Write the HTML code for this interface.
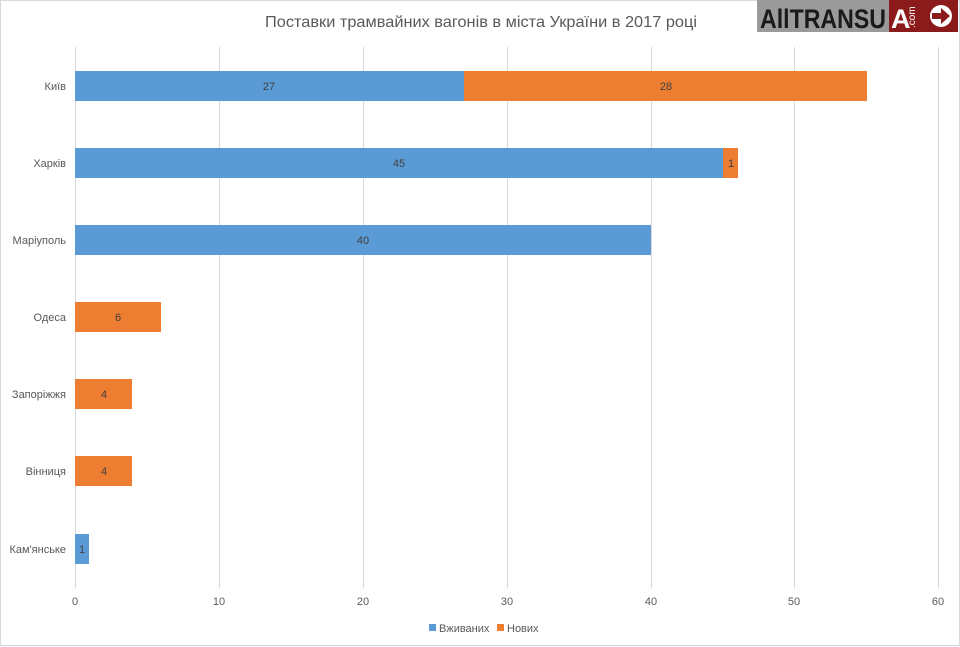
<!DOCTYPE html>
<html><head><meta charset="utf-8"><style>
body{margin:0;background:#fff;}
svg{display:block;font-family:"Liberation Sans",sans-serif;}
</style></head><body>
<svg width="960" height="647" viewBox="0 0 960 647">
<rect x="0.5" y="0.5" width="959" height="645" fill="#fff" stroke="#d9d9d9"/>
<text x="481" y="27" text-anchor="middle" font-size="16" fill="#595959" textLength="432" lengthAdjust="spacingAndGlyphs">Поставки трамвайних вагонів в міста України в 2017 році</text>
<rect x="757" y="0" width="132" height="32" fill="#9a9a9a"/>
<text x="760" y="28" font-size="27" font-weight="bold" fill="#1a1a1a" textLength="126" lengthAdjust="spacingAndGlyphs">AllTRANSU</text>
<rect x="889" y="0" width="69" height="32" fill="#8b1a1a"/>
<text x="891" y="28" font-size="27" font-weight="bold" fill="#fff">A</text>
<text x="915" y="28" font-size="10" fill="#fff" transform="rotate(-90 915 28)">.com</text>
<circle cx="941" cy="16" r="11" fill="#fff"/>
<path d="M932 13h9v-5l9 8-9 8v-5h-9z" fill="#8b1a1a"/>
<g stroke="#d9d9d9" stroke-width="1">
<line x1="75.5" y1="47" x2="75.5" y2="588"/>
<line x1="219.5" y1="47" x2="219.5" y2="588"/>
<line x1="363.5" y1="47" x2="363.5" y2="588"/>
<line x1="507.5" y1="47" x2="507.5" y2="588"/>
<line x1="651.5" y1="47" x2="651.5" y2="588"/>
<line x1="794.5" y1="47" x2="794.5" y2="588"/>
<line x1="938.5" y1="47" x2="938.5" y2="588"/>
</g>
<g font-size="11" fill="#595959" text-anchor="middle">
<text x="75" y="605">0</text><text x="219" y="605">10</text><text x="363" y="605">20</text><text x="507" y="605">30</text><text x="651" y="605">40</text><text x="794" y="605">50</text><text x="938" y="605">60</text>
</g>
<g font-size="11" fill="#595959" text-anchor="end">
<text x="66" y="90">Київ</text><text x="66" y="167">Харків</text><text x="66" y="244">Маріуполь</text><text x="66" y="321">Одеса</text><text x="66" y="398">Запоріжжя</text><text x="66" y="475">Вінниця</text><text x="66" y="553">Кам'янське</text>
</g>
<rect x="75" y="71" width="389" height="30" fill="#5b9bd5"/>
<rect x="464" y="71" width="403" height="30" fill="#ed7d31"/>
<rect x="75" y="148" width="648" height="30" fill="#5b9bd5"/>
<rect x="723" y="148" width="15" height="30" fill="#ed7d31"/>
<rect x="75" y="225" width="576" height="30" fill="#5b9bd5"/>
<rect x="75" y="302" width="86" height="30" fill="#ed7d31"/>
<rect x="75" y="379" width="57" height="30" fill="#ed7d31"/>
<rect x="75" y="456" width="57" height="30" fill="#ed7d31"/>
<rect x="75" y="534" width="14" height="30" fill="#5b9bd5"/>
<g font-size="11" fill="#404040" text-anchor="middle">
<text x="269" y="90">27</text><text x="666" y="90">28</text>
<text x="399" y="167">45</text><text x="731" y="167">1</text>
<text x="363" y="244">40</text><text x="118" y="321">6</text>
<text x="104" y="398">4</text><text x="104" y="475">4</text><text x="82" y="553">1</text>
</g>
<rect x="429" y="624" width="7" height="7" fill="#5b9bd5"/>
<text x="439" y="632" font-size="11" fill="#595959">Вживаних</text>
<rect x="497" y="624" width="7" height="7" fill="#ed7d31"/>
<text x="507" y="632" font-size="11" fill="#595959">Нових</text>
</svg>
</body></html>
